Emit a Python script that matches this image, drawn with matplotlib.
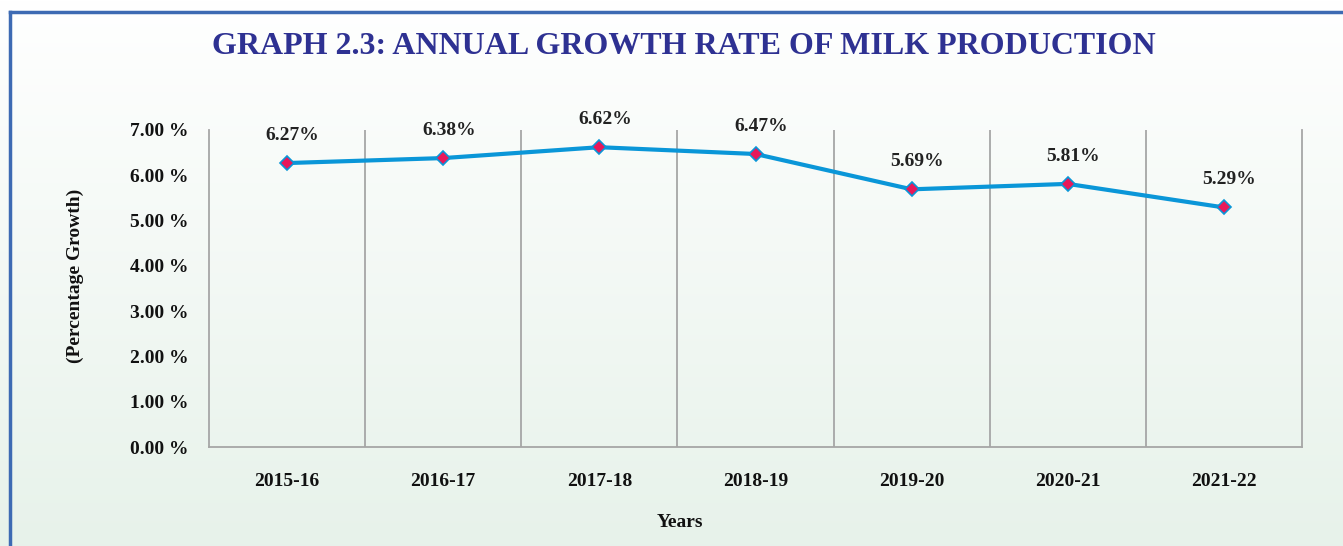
import matplotlib
matplotlib.use("Agg")
import matplotlib.pyplot as plt
import numpy as np
from matplotlib.lines import Line2D

years = ["2015-16", "2016-17", "2017-18", "2018-19", "2019-20", "2020-21", "2021-22"]
growth = [6.27, 6.38, 6.62, 6.47, 5.69, 5.81, 5.29]
yticks = [0, 1, 2, 3, 4, 5, 6, 7]

plt.rcParams['font.family'] = ['Liberation Serif', 'DejaVu Serif']
plt.rcParams['font.weight'] = 'bold'

fig = plt.figure(figsize=(13.43, 5.46), dpi=100)

# background gradient (white top -> pale green bottom)
bg = fig.add_axes([0, 0, 1, 1], zorder=-10)
top = np.array([1.0, 1.0, 1.0])
bot = np.array([0.906, 0.949, 0.918])
t = np.linspace(0, 1, 256)[:, None]
grad = (top * (1 - t) + bot * t)[:, None, :]
bg.imshow(grad, aspect='auto', extent=[0, 1, 0, 1])
bg.set_axis_off()

# frame on left and top
fig.add_artist(Line2D([10/1343, 10/1343], [0, 1 - 12/546], transform=fig.transFigure,
                      color='#3d6ab3', lw=2.5))
fig.add_artist(Line2D([10/1343, 1], [1 - 12/546, 1 - 12/546], transform=fig.transFigure,
                      color='#3d6ab3', lw=2.5))

ax = fig.add_axes([209/1343, 99/546, 1093/1343, 317/546])
ax.patch.set_alpha(0)

x = np.arange(len(years))
ax.plot(x, growth, color='#0a96d8', lw=3, marker='D', markersize=7.5,
        markerfacecolor='#e8185a', markeredgecolor='#0a96d8', markeredgewidth=1.2, zorder=3)

for xi, v in zip(x, growth):
    ax.annotate(f"{v:.2f}%", (xi, v), xytext=(4, 20), textcoords='offset points',
                ha='center', va='center', fontsize=14, fontweight='bold', color='#222222')

ax.set_xlim(-0.5, len(years) - 0.5)
ax.set_ylim(0, 7)
ax.set_yticks(yticks)
ax.set_yticklabels([f"{v:.2f} %" for v in yticks], fontsize=14, fontweight='bold', color='#111111')
ax.set_xticks(x)
ax.set_xticklabels(years, fontsize=14, fontweight='bold', color='#111111')
ax.set_xticks(np.arange(0.5, len(years) - 1, 1), minor=True)
ax.tick_params(axis='y', length=0, pad=15)
ax.tick_params(axis='x', which='major', length=0, pad=19)
ax.tick_params(axis='x', which='minor', length=0)
ax.grid(True, axis='x', which='minor', color='#a6a6a6', lw=1.3)

for s in ['left', 'right', 'bottom']:
    ax.spines[s].set_color('#a6a6a6')
    ax.spines[s].set_linewidth(1.3)
ax.spines['top'].set_visible(False)

ax.set_ylabel("(Percentage Growth)", fontsize=14, fontweight='bold', color='#111111')
ax.yaxis.set_label_coords(-0.114, 0.54)
ax.set_xlabel("Years", fontsize=14, fontweight='bold', color='#111111')
ax.xaxis.set_label_coords(0.431, -0.212)

fig.text(684/1343, 1 - 47/546, "GRAPH 2.3: ANNUAL GROWTH RATE OF MILK PRODUCTION",
         ha='center', va='center', fontsize=23, fontweight='bold', color='#2e3192')

fig.savefig("out.png", dpi=100)
